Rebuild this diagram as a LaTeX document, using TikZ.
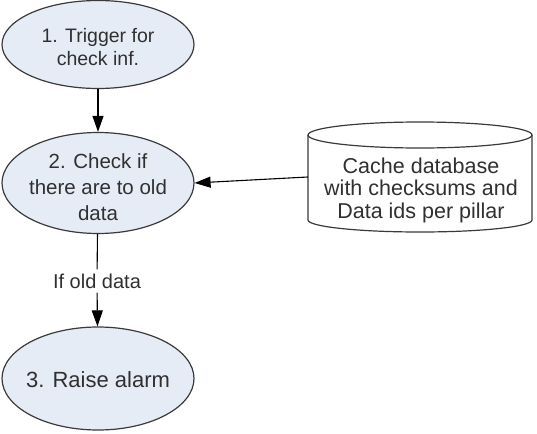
\documentclass[tikz,border=0pt]{standalone}
\usepackage{fontspec}
\setmainfont{Liberation Sans}
\usetikzlibrary{shapes.geometric,arrows.meta}
\definecolor{efill}{HTML}{E6ECF6}
\definecolor{edge}{HTML}{3A3A3A}
\definecolor{txt}{HTML}{303030}
\begin{document}
\begin{tikzpicture}[x=1pt,y=-1pt,
  proc/.style={ellipse, draw=edge, fill=efill, line width=1.2pt, minimum width=192pt, minimum height=#1, inner sep=0pt},
  ptext/.style={align=center, text=txt, inner sep=0pt},
  conn/.style={draw=black, line width=1.1pt},
  arr/.style={conn, -{Triangle[length=16pt,width=11pt]}}]
\useasboundingbox (0,0) rectangle (537,433);
\node[proc=88pt] (e1) at (98,44.5) {};
\node[ptext, font=\fontsize{19.5}{23.5}\selectfont] (t1) at (98,47) {1. Trigger for\\check inf.};
\node[proc=101pt] (e2) at (98,183) {};
\node[ptext, font=\fontsize{20.5}{26}\selectfont] (t2) at (98,187.5) {2. Check if\\there are to old\\data};
\node[proc=103pt] (e3) at (98,378.5) {};
\node[ptext, font=\fontsize{22}{26}\selectfont] (t3) at (98,380) {3. Raise alarm};
% cylinder
\node[draw=none, minimum width=224pt, minimum height=110pt, inner sep=0pt] (db) at (420,177) {};
\draw[draw=edge, fill=white, line width=1.2pt]
  (308,135) -- (308,220) arc[start angle=180, end angle=0, x radius=112, y radius=12]
  -- (532,135) arc[start angle=0, end angle=-180, x radius=112, y radius=13] -- cycle;
\draw[draw=edge, line width=1.2pt] (308,135) arc[start angle=180, end angle=0, x radius=112, y radius=13];
\node[ptext, font=\fontsize{21.5}{22.5}\selectfont] (tdb) at (421,190) {Cache database\\with checksums and\\Data ids per pillar};
\node[text=txt, font=\fontsize{20}{22}\selectfont, inner sep=4pt] (lbl) at (97,281) {If old data};
\draw[arr] (e1) -- (e2);
\draw[arr] (db.west) -- (e2.east);
\draw[conn] (e2) -- (lbl);
\draw[arr] (lbl) -- (e3);
\end{tikzpicture}
\end{document}
